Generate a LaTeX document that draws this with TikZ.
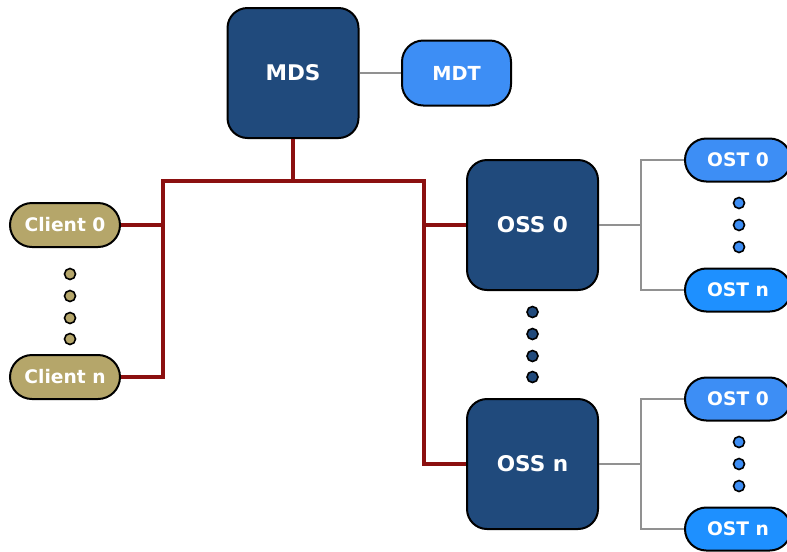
\documentclass[tikz,border=0pt]{standalone}
\usepackage{fontspec}
\setmainfont{DejaVu Sans}
\definecolor{srvblue}{RGB}{32,74,124}
\definecolor{tgtblue}{RGB}{61,142,245}
\definecolor{tgtblueb}{RGB}{30,144,255}
\definecolor{clientkhaki}{RGB}{181,166,106}
\definecolor{netred}{RGB}{139,16,16}
\definecolor{linkgray}{RGB}{145,145,145}
\begin{document}
\begin{tikzpicture}[x=0.75pt,y=-0.75pt,
  server/.style={draw=black,line width=1.5pt,fill=srvblue,rounded corners=15pt,
    minimum width=131*0.75pt,minimum height=130*0.75pt,inner sep=0pt,
    text=white,font=\bfseries\fontsize{16.2}{19}\selectfont},
  mdtbox/.style={draw=black,line width=1.5pt,fill=tgtblue,rounded corners=16pt,
    minimum width=109*0.75pt,minimum height=65*0.75pt,inner sep=0pt,
    text=white,font=\bfseries\fontsize{14.5}{17}\selectfont},
  target/.style={draw=black,line width=1.5pt,fill=tgtblue,rounded corners=16pt,
    minimum width=106*0.75pt,minimum height=43*0.75pt,inner sep=0pt,
    text=white,font=\bfseries\fontsize{14}{16}\selectfont},
  client/.style={draw=black,line width=1.5pt,fill=clientkhaki,rounded corners=16.5pt,
    minimum width=110*0.75pt,minimum height=44*0.75pt,inner sep=0pt,
    text=white,font=\bfseries\fontsize{14}{16}\selectfont},
  dot/.style={circle,draw=black,line width=1.2pt,minimum size=11*0.75pt,inner sep=0pt},
  netline/.style={draw=netred,line width=2.6pt},
  graylink/.style={draw=linkgray,line width=1.5pt}]
\useasboundingbox (0,0) rectangle (787,551);

% servers
\node[server] (mds) at (293,73) {MDS};
\node[server] (oss0) at (532.5,225) {OSS 0};
\node[server] (ossn) at (532.5,464) {OSS n};

% metadata target
\node[mdtbox] (mdt) at (456.5,73) {MDT};

% object storage targets
\node[target] (t00) at (738,160) {OST 0};
\node[target,fill=tgtblueb] (t0n) at (738,290) {OST n};
\node[target] (tn0) at (738,399) {OST 0};
\node[target,fill=tgtblueb] (tnn) at (738,529) {OST n};

% clients
\node[client] (c0) at (65,225) {Client 0};
\node[client] (cn) at (65,377) {Client n};

% ellipsis dots
\foreach \y/\n in {274/1,296/2,318/3,339/4}
  \node[dot,fill=clientkhaki] (cd\n) at (70,\y) {};
\foreach \y/\n in {312/1,334/2,356/3,377/4}
  \node[dot,fill=srvblue] (sd\n) at (532.5,\y) {};
\foreach \y/\n in {203/1,225/2,247/3}
  \node[dot,fill=tgtblue] (ad\n) at (739,\y) {};
\foreach \y/\n in {442/1,464/2,486/3}
  \node[dot,fill=tgtblue] (bd\n) at (739,\y) {};

% network bus
\coordinate (busL) at (163,181);
\coordinate (busR) at (424,181);
\draw[netline] (mds.south) -- (mds.south |- busL);
\draw[netline,line cap=rect] (busL) -- (busR);
\draw[netline] (busL) |- (cn.east);
\draw[netline] (c0.east) -- (c0.east -| busL);
\draw[netline] (busR) |- (ossn.west);
\draw[netline] (oss0.west) -- (oss0.west -| busR);

% storage links
\coordinate (j0) at (641,225);
\coordinate (jn) at (641,464);
\draw[graylink] (mds.east) -- (mdt.west);
\draw[graylink] (oss0.east) -- (j0);
\draw[graylink] (t00.west) -| (j0) |- (t0n.west);
\draw[graylink] (ossn.east) -- (jn);
\draw[graylink] (tn0.west) -| (jn) |- (tnn.west);
\end{tikzpicture}
\end{document}
